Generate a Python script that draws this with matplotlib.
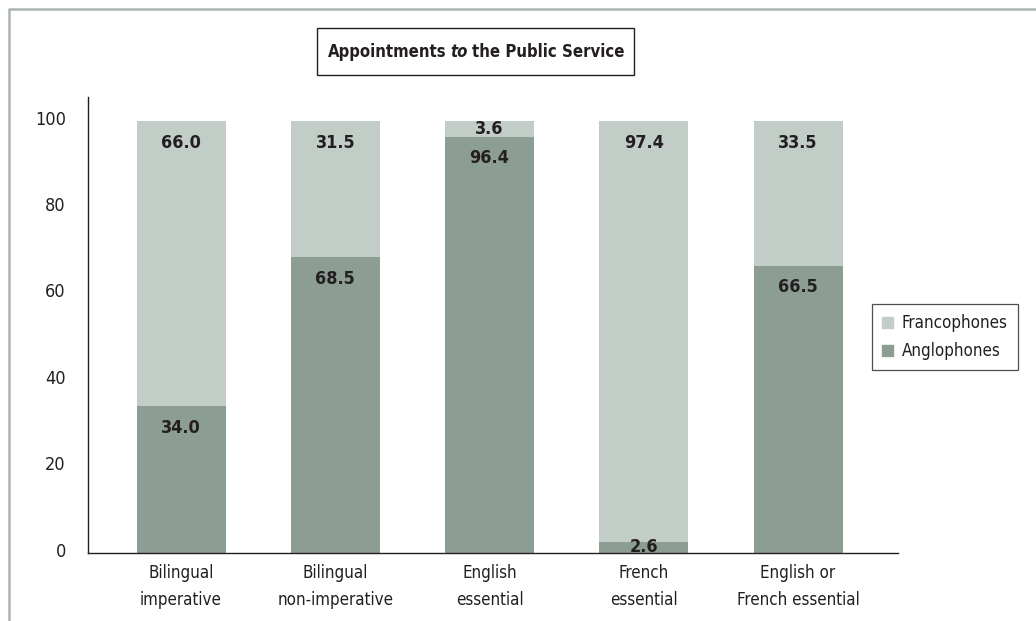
import matplotlib
matplotlib.use("Agg")
import matplotlib.pyplot as plt
from matplotlib.lines import Line2D
from matplotlib.patches import Rectangle, Patch
from matplotlib.transforms import IdentityTransform, ScaledTranslation

categories = ["Bilingual\nimperative", "Bilingual\nnon-imperative", "English\nessential",
              "French\nessential", "English or\nFrench essential"]
anglophones = [34.0, 68.5, 96.4, 2.6, 66.5]
francophones = [66.0, 31.5, 3.6, 97.4, 33.5]

dark = "#8c9e94"
light = "#c2cdc7"
ink = "#231f20"

plt.rcParams["font.family"] = ["DejaVu Sans"]
plt.rcParams["font.stretch"] = "condensed"

W, H = 1036, 621
fig = plt.figure(figsize=(W / 100, H / 100), dpi=100)
ax = fig.add_axes([88 / W, 1 - 553 / H, (898 - 88) / W, (553 - 97) / H])

x = list(range(len(categories)))
width = 0.577
ax.bar(x, anglophones, width, color=dark, label="Anglophones")
ax.bar(x, francophones, width, bottom=anglophones, color=light, label="Francophones")

# value labels: near the top of each segment, centred in thin segments
for i in x:
    for bottom, val in ((0, anglophones[i]), (anglophones[i], francophones[i])):
        top = bottom + val
        if val < 5:
            ax.text(i, bottom + val / 2, f"{val:.1f}", ha="center", va="center",
                    fontsize=13, fontweight="bold", color=ink)
        else:
            ax.annotate(f"{val:.1f}", (i, top), xytext=(0, -9), textcoords="offset points",
                        ha="center", va="top", fontsize=13, fontweight="bold", color=ink)

ax.set_xlim(-0.603, 4.648)
ax.set_ylim(0, 105.6)
ax.set_yticks([0, 20, 40, 60, 80, 100])
ax.set_xticks(x)
ax.set_xticklabels(categories, fontsize=12.2, color=ink, linespacing=1.62)
ax.tick_params(axis="both", length=0, labelcolor=ink)
ax.tick_params(axis="y", pad=16, labelsize=13)
ax.tick_params(axis="x", pad=8)
lift = ScaledTranslation(0, 2.5 / 72, fig.dpi_scale_trans)
for lab in ax.get_yticklabels():
    lab.set_transform(lab.get_transform() + lift)
for s in ("top", "right"):
    ax.spines[s].set_visible(False)
for s in ("left", "bottom"):
    ax.spines[s].set_color(ink)
    ax.spines[s].set_linewidth(1.0)

handles = [Patch(color=light, label="Francophones"), Patch(color=dark, label="Anglophones")]
leg = fig.legend(handles=handles, loc="upper left", bbox_to_anchor=(872 / W, 1 - 304 / H),
                 frameon=True, fancybox=False, fontsize=12.2, handlelength=0.65,
                 handleheight=0.65, handletextpad=0.5, borderpad=0.6, labelspacing=0.6,
                 borderaxespad=0)
leg.get_frame().set_edgecolor(ink)
leg.get_frame().set_linewidth(0.9)
for t in leg.get_texts():
    t.set_color(ink)

# boxed title with an italic word, laid out piece by piece in pixels
pieces = [("Appointments", "normal"), ("to", "italic"), ("the Public Service", "normal")]
gap = 4
cy = H - 52
texts = []
for s, style in pieces:
    texts.append(fig.text(0, cy, s, transform=IdentityTransform(), fontsize=12,
                          fontweight="bold", fontstyle=style, color=ink, va="center"))
fig.canvas.draw()
widths = [t.get_window_extent().width for t in texts]
total = sum(widths) + gap * (len(widths) - 1)
xpos = 476 - total / 2
for t, w in zip(texts, widths):
    t.set_x(xpos)
    xpos += w + gap
fig.patches.append(Rectangle((317, H - 75), 634 - 317, 75 - 28, transform=IdentityTransform(),
                             fill=False, edgecolor=ink, linewidth=1.0))

# outer frame along the top and left edges
frame = "#a9b5ad"
fig.lines.append(Line2D([8.5, 8.5, W], [0, H - 8.5, H - 8.5], transform=IdentityTransform(),
                        color=frame, linewidth=1.8))

fig.savefig("out.png", dpi=100)
